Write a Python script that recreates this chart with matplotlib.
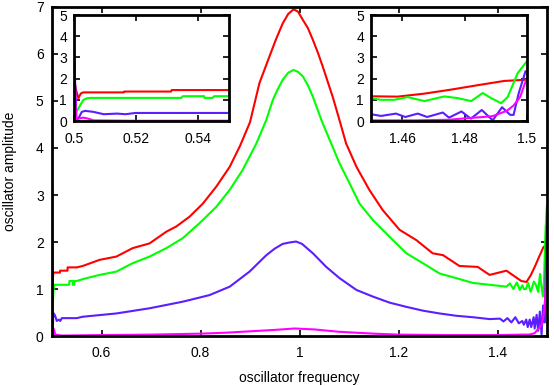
import matplotlib
matplotlib.use("Agg")
import matplotlib.pyplot as plt

plt.rcParams['font.family'] = ['Liberation Sans', 'DejaVu Sans']
plt.rcParams['font.size'] = 10

# values (frequency, amplitude)
red_x = [0.5, 0.5006, 0.5014, 0.5022, 0.503, 0.516, 0.5162, 0.5313, 0.5315, 0.55,
         0.562, 0.596, 0.630, 0.663, 0.697, 0.731, 0.751, 0.778, 0.805, 0.832,
         0.859, 0.880, 0.900, 0.919, 0.939, 0.952, 0.966, 0.977, 0.988, 0.997,
         1.007, 1.017, 1.027, 1.037, 1.047, 1.067, 1.080, 1.094, 1.115, 1.141,
         1.168, 1.202, 1.236, 1.269, 1.290, 1.323, 1.360, 1.384, 1.418, 1.448,
         1.4585, 1.467, 1.4756, 1.4842, 1.4927, 1.5]
red_y = [2.0, 1.5, 1.07, 1.3, 1.35, 1.35, 1.39, 1.39, 1.46, 1.46,
         1.49, 1.62, 1.69, 1.87, 1.97, 2.22, 2.33, 2.54, 2.82, 3.18,
         3.60, 4.05, 4.55, 5.38, 5.94, 6.30, 6.65, 6.85, 6.95, 6.90,
         6.72, 6.55, 6.30, 6.03, 5.73, 5.09, 4.62, 4.10, 3.60, 3.11,
         2.68, 2.26, 2.04, 1.76, 1.72, 1.49, 1.47, 1.30, 1.39, 1.17,
         1.15, 1.29, 1.48, 1.69, 1.89, 1.95]

green_x = [0.5, 0.5011, 0.502, 0.503, 0.5041, 0.5052, 0.5346, 0.5351, 0.542, 0.5421,
           0.5447, 0.5452, 0.55, 0.562, 0.596, 0.630, 0.663, 0.697, 0.731, 0.764,
           0.798, 0.832, 0.859, 0.885, 0.913, 0.933, 0.946, 0.956, 0.966, 0.977,
           0.988, 0.997, 1.007, 1.017, 1.027, 1.044, 1.061, 1.081, 1.101, 1.121,
           1.148, 1.182, 1.216, 1.249, 1.283, 1.317, 1.350, 1.384, 1.418, 1.425,
           1.432, 1.439, 1.445, 1.450, 1.4532, 1.4575, 1.4617, 1.4671, 1.4735, 1.4778,
           1.4821, 1.4858, 1.4885, 1.4917, 1.4938, 1.4970, 1.4997]
green_y = [0.30, 0.51, 0.75, 0.99, 1.07, 1.09, 1.09, 1.17, 1.17, 1.09,
           1.09, 1.17, 1.17, 1.21, 1.30, 1.37, 1.55, 1.69, 1.87, 2.08,
           2.40, 2.75, 3.11, 3.53, 4.10, 4.60, 5.02, 5.25, 5.45, 5.60,
           5.66, 5.62, 5.52, 5.33, 5.09, 4.60, 4.17, 3.67, 3.25, 2.82,
           2.47, 2.11, 1.76, 1.55, 1.33, 1.23, 1.13, 1.09, 1.05, 1.12,
           1.00, 1.14, 0.98, 1.08, 1.00, 1.00, 1.13, 0.94, 1.16, 1.08,
           0.94, 1.32, 1.08, 0.84, 1.13, 2.26, 2.77]

blue_x = [0.5, 0.5008, 0.5017, 0.5025, 0.5036, 0.5063, 0.5096, 0.5139, 0.5166, 0.5198,
          0.55, 0.562, 0.630, 0.697, 0.764, 0.818, 0.859, 0.899, 0.933, 0.950,
          0.966, 0.980, 0.993, 1.005, 1.027, 1.054, 1.081, 1.115, 1.148, 1.182,
          1.216, 1.249, 1.283, 1.317, 1.350, 1.384, 1.405, 1.412, 1.420, 1.428,
          1.436, 1.443, 1.450, 1.4532, 1.458, 1.461, 1.465, 1.468, 1.473, 1.475,
          1.479, 1.482, 1.4855, 1.489, 1.492, 1.4946, 1.4957, 1.4973, 1.4995]
blue_y = [3.3, 0.0, 0.2, 0.43, 0.48, 0.43, 0.32, 0.35, 0.32, 0.38,
          0.38, 0.41, 0.48, 0.59, 0.73, 0.87, 1.05, 1.37, 1.72, 1.86,
          1.96, 1.99, 2.01, 1.96, 1.76, 1.47, 1.23, 0.98, 0.84, 0.71,
          0.62, 0.54, 0.48, 0.43, 0.40, 0.36, 0.37, 0.31, 0.38, 0.29,
          0.40, 0.27, 0.32, 0.24, 0.35, 0.19, 0.35, 0.19, 0.40, 0.16,
          0.45, 0.11, 0.52, 0.03, 0.65, 0.29, 0.29, 1.29, 2.34]

mag_x = [0.5, 0.5007, 0.5013, 0.503, 0.5046, 0.5063, 0.52, 0.6, 0.7, 0.8,
         0.85, 0.9, 0.95, 0.99, 1.03, 1.08, 1.15, 1.2, 1.3, 1.4,
         1.45, 1.464, 1.475, 1.4805, 1.486, 1.489, 1.4935, 1.4957, 1.4978, 1.4995,
         1.5]
mag_y = [3.1, 0.0, 0.11, 0.16, 0.11, 0.03, 0.01, 0.02, 0.03, 0.05,
         0.07, 0.10, 0.13, 0.16, 0.14, 0.09, 0.05, 0.03, 0.02, 0.02,
         0.03, 0.03, 0.06, 0.13, 0.19, 0.23, 0.48, 0.73, 1.13, 1.85,
         2.0]

main_xticks = [0.6, 0.8, 1.0, 1.2, 1.4]
main_xlabels = ['0.6', '0.8', '1', '1.2', '1.4']
left_xticks = [0.5, 0.52, 0.54]
left_xlabels = ['0.5', '0.52', '0.54']
right_xticks = [1.46, 1.48, 1.5]
right_xlabels = ['1.46', '1.48', '1.5']

series = [(red_x, red_y, '#ff0000'), (green_x, green_y, '#00ff00'),
          (blue_x, blue_y, '#5a1eff'), (mag_x, mag_y, '#ff00ff')]


def style(ax, lw, pad_x, pad_y):
    for s in ax.spines.values():
        s.set_linewidth(lw)
    ax.tick_params(direction='in', top=True, right=True, length=4, width=1.2,
                   labelsize=10)
    ax.tick_params(axis='x', pad=pad_x)
    ax.tick_params(axis='y', pad=pad_y)


fig = plt.figure(figsize=(5.54, 3.86), dpi=100)

ax = fig.add_axes([0.0939, 0.1295, 0.8935, 0.8524])
for x, y, c in series:
    ax.plot(x, y, color=c, lw=1.5)
ax.set_xlim(0.5, 1.5)
ax.set_ylim(0, 7)
ax.set_xticks(main_xticks)
ax.set_xticklabels(main_xlabels)
ax.set_yticks(range(8))
style(ax, 2.0, 7, 6)
ax.set_xlabel('oscillator frequency', labelpad=8)
ax.set_ylabel('oscillator amplitude')
ax.yaxis.set_label_coords(-0.07, 0.5)

axl = fig.add_axes([0.1336, 0.6865, 0.2798, 0.2746])
axr = fig.add_axes([0.6697, 0.6865, 0.2816, 0.2746])
for a, lim, ticks, labs in [(axl, (0.5, 0.55), left_xticks, left_xlabels),
                            (axr, (1.45, 1.5), right_xticks, right_xlabels)]:
    for x, y, c in series:
        a.plot(x, y, color=c, lw=1.5)
    a.set_xlim(*lim)
    a.set_ylim(0, 5)
    a.set_xticks(ticks)
    a.set_xticklabels(labs)
    a.set_yticks(range(6))
    style(a, 2.0, 8, 5)

fig.savefig('out.png', dpi=100)
